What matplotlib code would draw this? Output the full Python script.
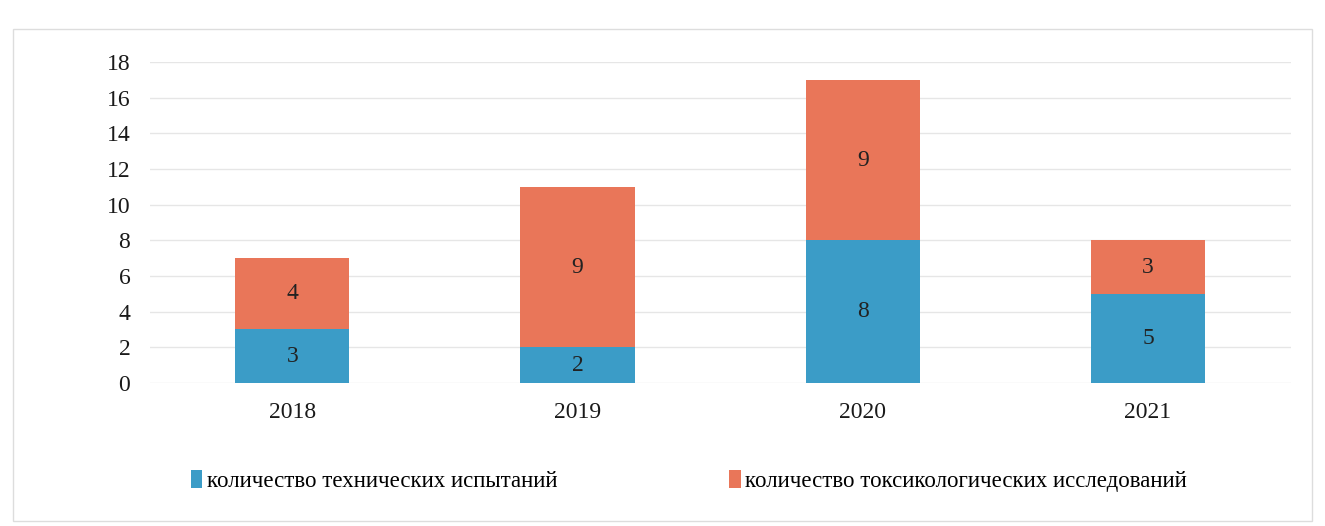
import matplotlib.pyplot as plt
import numpy as np

years = ["2018", "2019", "2020", "2021"]
tech = [3, 2, 8, 5]
toxic = [4, 9, 9, 3]
labels = ["количество технических испытаний", "количество токсикологических исследований"]

plt.rcParams['font.family'] = ['Liberation Serif', 'DejaVu Serif']

fig = plt.figure(figsize=(13.25, 5.26), dpi=100)
ax = fig.add_axes([0.113, 0.272, 0.861, 0.61])

x = np.arange(len(years))
w = 0.4
b1 = ax.bar(x, tech, w, color="#3b9cc7", label=labels[0], zorder=3)
b2 = ax.bar(x, toxic, w, bottom=tech, color="#e97659", label=labels[1], zorder=3)
for i in range(len(years)):
    ax.text(x[i], tech[i] / 2, str(tech[i]), ha="center", va="center", fontsize=17, color="#222222", zorder=4)
    ax.text(x[i], tech[i] + toxic[i] / 2, str(toxic[i]), ha="center", va="center", fontsize=17, color="#222222", zorder=4)

ax.set_ylim(0, 18)
ax.set_yticks(range(0, 19, 2))
ax.set_xlim(-0.5, 3.5)
ax.set_xticks(x)
ax.set_xticklabels(years)
ax.grid(axis="y", color="#e6e6e6", linewidth=1, zorder=0)
for s in ax.spines.values():
    s.set_visible(False)
ax.tick_params(length=0, labelsize=17, colors="#1a1a1a")
ax.tick_params(axis="y", pad=14)
ax.tick_params(axis="x", pad=14)

fig.legend(handles=[b1, b2], loc="center", bbox_to_anchor=(0.52, 0.085), ncol=2,
           frameon=False, fontsize=16.5, handlelength=0.5, handleheight=0.8,
           handletextpad=0.2, columnspacing=7.5)

fig.patches.append(plt.Rectangle((0.01, 0.01), 0.98, 0.935, transform=fig.transFigure,
                                 fill=False, edgecolor="#dddddd", linewidth=1))
fig.savefig("out.png", dpi=100)
